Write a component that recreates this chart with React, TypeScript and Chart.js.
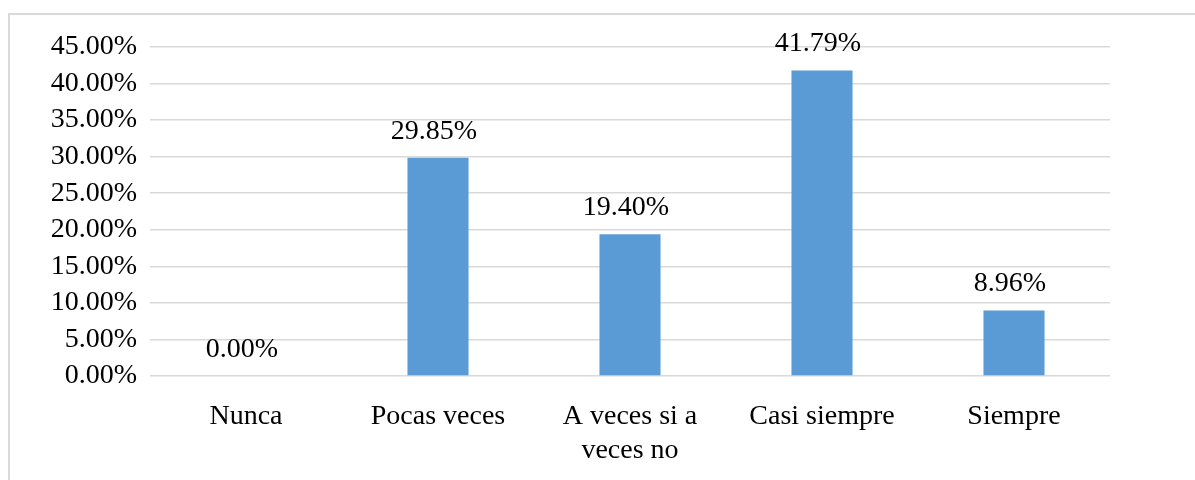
import React, { useEffect, useRef } from "react";
import { Chart, registerables } from "chart.js";

Chart.register(...registerables);

const categories: (string | string[])[] = [
  "Nunca",
  "Pocas veces",
  ["A veces si a", "veces no"],
  "Casi siempre",
  "Siempre",
];
const values: number[] = [0, 29.85, 19.4, 41.79, 8.96];
const yMin = 0;
const yMax = 45;
const yStep = 5;

const FONT = "'Liberation Serif', 'Times New Roman', serif";

const valueLabels = {
  id: "valueLabels",
  afterDatasetsDraw(chart: any) {
    const { ctx } = chart;
    const meta = chart.getDatasetMeta(0);
    ctx.save();
    ctx.font = `28px ${FONT}`;
    ctx.fillStyle = "#000";
    ctx.textAlign = "center";
    ctx.textBaseline = "alphabetic";
    meta.data.forEach((bar: any, i: number) => {
      const v = values[i];
      ctx.fillText(v.toFixed(2) + "%", bar.x - 4, bar.y - 19);
    });
    ctx.restore();
  },
};

export default function App() {
  const ref = useRef<HTMLCanvasElement | null>(null);
  useEffect(() => {
    if (!ref.current) return;
    const chart = new Chart(ref.current, {
      type: "bar",
      data: {
        labels: categories as any,
        datasets: [
          {
            data: values,
            backgroundColor: "#5B9BD5",
            borderWidth: 0,
            barPercentage: 0.318,
            categoryPercentage: 1,
          },
        ],
      },
      options: {
        animation: false,
        responsive: false,
        devicePixelRatio: 1,
        layout: { padding: { top: 32, right: 88, left: 0, bottom: 0 } },
        plugins: {
          legend: { display: false },
          tooltip: { enabled: false },
        },
        scales: {
          x: {
            grid: { display: false },
            border: { display: false },
            ticks: {
              color: "#000",
              font: { family: FONT, size: 28, lineHeight: 1.2 },
              padding: 16,
              maxRotation: 0,
              autoSkip: false,
            },
            afterFit(scale: any) {
              scale.height = 104;
            },
          },
          y: {
            min: yMin,
            max: yMax,
            grid: { color: "#D9D9D9", lineWidth: 1.5, drawTicks: false },
            border: { display: false },
            ticks: {
              stepSize: yStep,
              autoSkip: false,
              color: "#000",
              padding: 13,
              font: { family: FONT, size: 28 },
              callback: (v: any) => Number(v).toFixed(2) + "%",
            },
            afterFit(scale: any) {
              scale.width = 140;
            },
          },
        },
      },
      plugins: [valueLabels],
    });
    return () => chart.destroy();
  }, []);

  return (
    <div
      style={{
        position: "absolute",
        left: 8,
        top: 13,
        width: 1200,
        height: 475,
        border: "2px solid #D9D9D9",
        boxSizing: "border-box",
        background: "#fff",
      }}
    >
      <canvas ref={ref} width={1188} height={465} style={{ display: "block" }} />
    </div>
  );
}
